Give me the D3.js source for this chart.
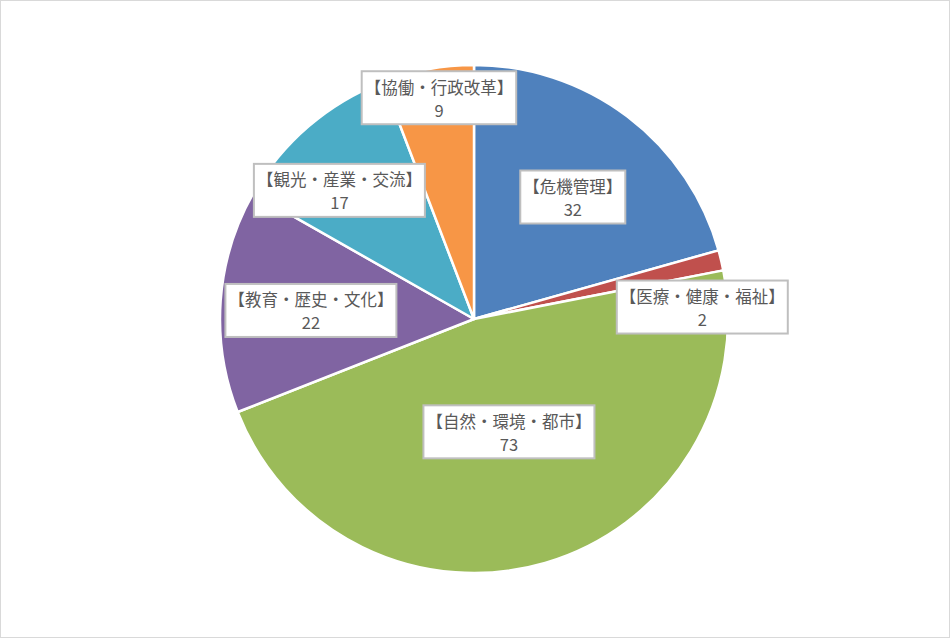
<!DOCTYPE html>
<html><head><meta charset="utf-8">
<script src="https://cdn.jsdelivr.net/npm/d3@7"></script>
<style>
html,body{margin:0;padding:0;background:#fff;}
svg{display:block;}
</style></head>
<body>
<script>
const categories = ["【危機管理】","【医療・健康・福祉】","【自然・環境・都市】","【教育・歴史・文化】","【観光・産業・交流】","【協働・行政改革】"];
const values = [32, 2, 73, 22, 17, 9];
const colors = ["#4F81BD","#C0504D","#9BBB59","#8064A2","#4BACC6","#F79646"];
// label placement: angle (deg, clockwise from top) and radius fraction
const labelAngle = [39, 87, 162.8, 273, 313.7, 351];
const labelRadius = [0.618, 0.90, 0.465, 0.643, 0.733, 0.882];

const W = 950, H = 638, cx = 474, cy = 319, R = 254;
const svg = d3.select("body").append("svg").attr("width", W).attr("height", H);
svg.append("rect").attr("x",0.5).attr("y",0.5).attr("width",W-1).attr("height",H-1)
  .attr("fill","#fff").attr("stroke","#d9d9d9");

const data = categories.map((c,i)=>({cat:c, val:values[i], i}));
const pie = d3.pie().value(d=>d.val).sort(null);
const arc = d3.arc().innerRadius(0).outerRadius(R);
const g = svg.append("g").attr("transform",`translate(${cx},${cy})`);
const arcs = pie(data);
g.selectAll("path").data(arcs).join("path")
  .attr("d", arc).attr("fill", d=>colors[d.data.i])
  .attr("stroke","#fff").attr("stroke-width",2.5).attr("stroke-linejoin","round");

const fs = 16.5;
const font = "'Noto Sans CJK JP','Noto Sans',sans-serif";
const lg = g.selectAll("g.lab").data(arcs).join("g").attr("class","lab")
  .attr("transform", d=>{
    const a = labelAngle[d.data.i]*Math.PI/180, r = labelRadius[d.data.i]*R;
    return `translate(${r*Math.sin(a)},${-r*Math.cos(a)})`;
  });
lg.each(function(d){
  const sel = d3.select(this);
  const rect = sel.append("rect");
  const t1 = sel.append("text").attr("text-anchor","middle").attr("y",-4)
    .attr("font-family",font).attr("font-size",fs)
    .attr("fill","#595959").text(d.data.cat);
  sel.append("text").attr("text-anchor","middle").attr("y",19)
    .attr("font-family",font).attr("font-size",fs)
    .attr("fill","#595959").text(d3.format("d")(d.data.val));
  const w = t1.node().getComputedTextLength() + 6;
  const h = 53;
  rect.attr("x",-w/2).attr("y",-h/2).attr("width",w).attr("height",h)
    .attr("fill","#fff").attr("stroke","#bfbfbf").attr("stroke-width",2);
});
</script>
</body></html>
